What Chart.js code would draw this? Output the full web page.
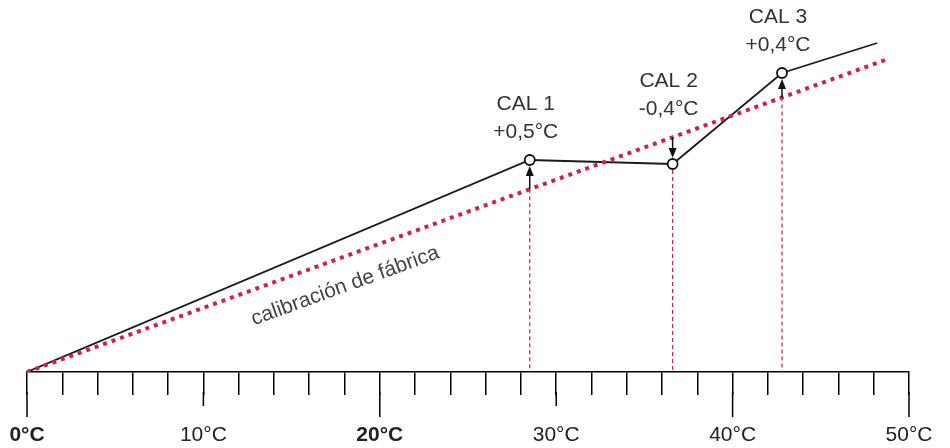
<!DOCTYPE html>
<html>
<head>
<meta charset="utf-8">
<script src="https://cdn.jsdelivr.net/npm/chart.js@4"></script>
<style>
  body { margin: 0; background: #fff; }
  #wrap { width: 950px; height: 448px; position: relative; }
</style>
</head>
<body>
<div id="wrap"><canvas id="myChart"></canvas></div>
<script>
// temperatures (°C) on the x axis, readings in arbitrary units
const tickLabels = ["0°C", "10°C", "20°C", "30°C", "40°C", "50°C"];
const boldTicks = ["0°C", "20°C"];
const calNames = ["CAL 1", "CAL 2", "CAL 3"];
const calOffsets = ["+0,5°C", "-0,4°C", "+0,4°C"];
const curveX = [0, 28.5, 36.6, 42.8, 48.2];
const curveY = [0, 21.2, 20.8, 29.9, 32.9];
const factoryX = [0, 48.8];
const factoryY = [0, 31.3];
const factoryLabel = "calibración de fábrica";

const FONT = '"Liberation Sans", Arial, sans-serif';
const RED = "#cc2446";

const factoryAt = function (x) {
  return factoryY[0] + (factoryY[1] - factoryY[0]) * (x - factoryX[0]) / (factoryX[1] - factoryX[0]);
};

const arrow = function (ctx, x, from, to) {
  const dir = to > from ? 1 : -1;
  ctx.strokeStyle = "#111";
  ctx.lineWidth = 1.5;
  ctx.beginPath();
  ctx.moveTo(x, from);
  ctx.lineTo(x, to - dir * 8);
  ctx.stroke();
  ctx.fillStyle = "#111";
  ctx.beginPath();
  ctx.moveTo(x, to);
  ctx.lineTo(x - 4, to - dir * 10);
  ctx.lineTo(x + 4, to - dir * 10);
  ctx.closePath();
  ctx.fill();
};

const extras = {
  id: "extras",
  afterDatasetsDraw(chart) {
    const ctx = chart.ctx;
    const xs = chart.scales.x;
    const ys = chart.scales.y;
    const axisY = chart.chartArea.bottom;
    ctx.save();

    // longer ticks at the decades
    ctx.strokeStyle = "#000";
    ctx.lineWidth = 1.5;
    tickLabels.forEach((t, i) => {
      const v = i * 10;
      const len = v === 10 || v === 30 ? 34 : 45;
      const px = xs.getPixelForValue(v);
      ctx.beginPath();
      ctx.moveTo(px, axisY + 20);
      ctx.lineTo(px, axisY + len);
      ctx.stroke();
    });

    // calibration points: dashed drop lines, arrows, labels
    for (let i = 0; i < calNames.length; i++) {
      const x = curveX[i + 1];
      const px = xs.getPixelForValue(x);
      const pCurve = ys.getPixelForValue(curveY[i + 1]);
      const pFactory = ys.getPixelForValue(factoryAt(x));
      const low = Math.max(pCurve, pFactory);
      ctx.setLineDash([4, 3]);
      ctx.strokeStyle = RED;
      ctx.lineWidth = 1.2;
      ctx.beginPath();
      ctx.moveTo(px, low + (pCurve > pFactory ? 6 : 0));
      ctx.lineTo(px, axisY);
      ctx.stroke();
      ctx.setLineDash([]);

      if (pCurve < pFactory) arrow(ctx, px, pFactory, pCurve + 6);
      else arrow(ctx, px, pFactory, pCurve - 6);

      const top = Math.min(pCurve, pFactory);
      ctx.fillStyle = "#333";
      ctx.font = "21px " + FONT;
      ctx.textAlign = "center";
      ctx.textBaseline = "middle";
      ctx.fillText(calNames[i], px - 4, top - 56);
      ctx.fillText(calOffsets[i], px - 4, top - 28);
    }

    // label along the factory line
    const lx = 17.5;
    const x0 = xs.getPixelForValue(factoryX[0]);
    const y0 = ys.getPixelForValue(factoryY[0]);
    const x1 = xs.getPixelForValue(factoryX[1]);
    const y1 = ys.getPixelForValue(factoryY[1]);
    const ang = Math.atan2(y1 - y0, x1 - x0);
    ctx.translate(xs.getPixelForValue(lx), ys.getPixelForValue(factoryAt(lx)));
    ctx.rotate(ang);
    ctx.fillStyle = "#444";
    ctx.font = "21px " + FONT;
    ctx.textAlign = "center";
    ctx.textBaseline = "middle";
    ctx.fillText(factoryLabel, 0, 28);
    ctx.restore();
  },
};

const chart = new Chart(document.getElementById("myChart"), {
  type: "line",
  data: {
    datasets: [
      {
        label: factoryLabel,
        data: factoryX.map((x, i) => ({ x: x, y: factoryY[i] })),
        borderColor: RED,
        borderWidth: 4,
        borderDash: [4, 5],
        borderCapStyle: "butt",
        pointRadius: 0,
        fill: false,
      },
      {
        label: "sensor",
        data: curveX.map((x, i) => ({ x: x, y: curveY[i] })),
        borderColor: "#1a1a1a",
        borderWidth: 1.8,
        tension: 0,
        pointRadius: [0, 5, 5, 5, 0],
        pointBorderColor: "#111",
        pointBackgroundColor: "#fff",
        pointBorderWidth: 1.8,
        fill: false,
      },
    ],
  },
  options: {
    responsive: true,
    maintainAspectRatio: false,
    animation: false,
    layout: { padding: { left: 27, right: 41, top: 0, bottom: 0 } },
    plugins: { legend: { display: false }, tooltip: { enabled: false } },
    scales: {
      x: {
        type: "linear",
        min: 0,
        max: 50,
        afterFit: (s) => {
          s.height = 76;
          s.paddingLeft = 0;
          s.paddingRight = 0;
        },
        grid: {
          drawOnChartArea: false,
          drawTicks: true,
          tickLength: 23,
          color: "#000",
          lineWidth: 1.5,
        },
        border: { display: true, color: "#000", width: 1.5 },
        ticks: {
          stepSize: 2,
          autoSkip: false,
          maxRotation: 0,
          padding: 28,
          color: "#222",
          font: (c) => ({
            family: FONT,
            size: 21,
            weight: c.tick && c.tick.value % 10 === 0 && boldTicks.includes(tickLabels[c.tick.value / 10]) ? "bold" : "normal",
          }),
          callback: (v) => (v % 10 === 0 ? tickLabels[v / 10] : ""),
        },
      },
      y: { display: false, min: 0, max: 37.2 },
    },
  },
  plugins: [extras],
});
</script>
</body>
</html>
